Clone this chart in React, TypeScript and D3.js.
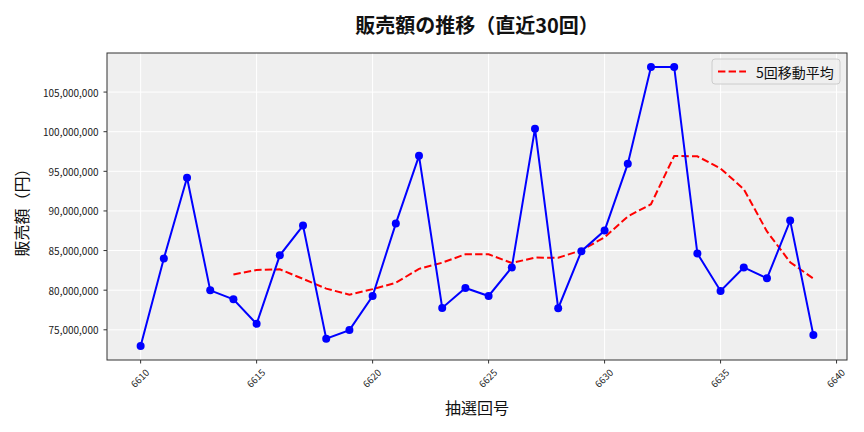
import React from "react";
import * as d3 from "d3";

const rounds: number[] = [6610, 6611, 6612, 6613, 6614, 6615, 6616, 6617, 6618, 6619, 6620, 6621, 6622, 6623, 6624, 6625, 6626, 6627, 6628, 6629, 6630, 6631, 6632, 6633, 6634, 6635, 6636, 6637, 6638, 6639];
const sales: number[] = [72950000, 84000000, 94180000, 79980000, 78850000, 75750000, 84400000, 88150000, 73870000, 74960000, 79270000, 88400000, 96950000, 77760000, 80280000, 79270000, 82870000, 100380000, 77720000, 84920000, 87520000, 95940000, 108170000, 108170000, 84630000, 79900000, 82870000, 81490000, 88780000, 74330000];
const maRounds: number[] = [6614, 6615, 6616, 6617, 6618, 6619, 6620, 6621, 6622, 6623, 6624, 6625, 6626, 6627, 6628, 6629, 6630, 6631, 6632, 6633, 6634, 6635, 6636, 6637, 6638, 6639];
const maValues: number[] = [81990000, 82550000, 82630000, 81430000, 80200000, 79430000, 80130000, 80930000, 82690000, 83470000, 84530000, 84530000, 83430000, 84110000, 84100000, 85030000, 86680000, 89300000, 90850000, 96940000, 96890000, 95360000, 92750000, 87410000, 83530000, 81470000];
const xTicks: number[] = [6610, 6615, 6620, 6625, 6630, 6635, 6640];
const yTicks: number[] = [75000000, 80000000, 85000000, 90000000, 95000000, 100000000, 105000000];

const title = "販売額の推移（直近30回）";
const xLabel = "抽選回号";
const yLabel = "販売額（円）";
const legendLabel = "5回移動平均";

const W = 864, H = 432;
const L = 107, R = 847, T = 53, B = 360;
const FONT = "'Noto Sans CJK JP', 'Noto Sans', sans-serif";

export default function App() {
  const xMin = d3.min(rounds)!, xMax = d3.max(rounds)!;
  const yMin = d3.min(sales)!, yMax = d3.max(sales)!;
  const xm = (xMax - xMin) * 0.05, ym = (yMax - yMin) * 0.05;
  const x = d3.scaleLinear().domain([xMin - xm, xMax + xm]).range([L, R]);
  const y = d3.scaleLinear().domain([yMin - ym, yMax + ym]).range([B, T]);
  const fmt = d3.format(",");

  const line = d3.line<number>().x((_, i) => x(rounds[i])).y((d) => y(d));
  const maLine = d3.line<number>().x((_, i) => x(maRounds[i])).y((d) => y(d));

  const axisColor = "#333";
  const lgX = 712, lgY = 59, lgW = 128, lgH = 25;

  return (
    <svg width={W} height={H} style={{ position: "absolute", left: 0, top: 0, background: "#fff" }} fontFamily={FONT}>
      <rect x={L} y={T} width={R - L} height={B - T} fill="#efefef" />
      {xTicks.map((t) => (
        <line key={"gx" + t} x1={x(t)} x2={x(t)} y1={T} y2={B} stroke="#fff" strokeWidth={1} />
      ))}
      {yTicks.map((t) => (
        <line key={"gy" + t} x1={L} x2={R} y1={y(t)} y2={y(t)} stroke="#fff" strokeWidth={1} />
      ))}
      <path d={maLine(maValues) || ""} fill="none" stroke="#ff0000" strokeWidth={2} strokeDasharray="7.4,3.2" />
      <path d={line(sales) || ""} fill="none" stroke="#0000ff" strokeWidth={2} />
      {sales.map((v, i) => (
        <circle key={"p" + i} cx={x(rounds[i])} cy={y(v)} r={4} fill="#0000ff" />
      ))}
      <rect x={L} y={T} width={R - L} height={B - T} fill="none" stroke={axisColor} strokeWidth={1} />
      {xTicks.map((t) => (
        <g key={"xt" + t}>
          <line x1={x(t)} x2={x(t)} y1={B} y2={B + 3.5} stroke={axisColor} />
          <text transform={`translate(${x(t) - 1},${B + 18}) rotate(-45)`} fontSize={9.5} textAnchor="middle" dominantBaseline="central" fill="#222">{t}</text>
        </g>
      ))}
      {yTicks.map((t) => (
        <g key={"yt" + t}>
          <line x1={L - 3.5} x2={L} y1={y(t)} y2={y(t)} stroke={axisColor} />
          <text x={L - 8.5} y={y(t)} fontSize={10} textAnchor="end" dominantBaseline="central" fill="#222">{fmt(t)}</text>
        </g>
      ))}
      <text x={(L + R) / 2} y={24} fontSize={20} textAnchor="middle" dominantBaseline="central" fill="#111" fontWeight={700}>{title}</text>
      <text x={(L + R) / 2} y={407} fontSize={16} textAnchor="middle" dominantBaseline="central" fill="#111">{xLabel}</text>
      <text transform={`translate(21,${(T + B) / 2 + 2}) rotate(-90)`} fontSize={16} textAnchor="middle" dominantBaseline="central" fill="#111">{yLabel}</text>
      <g>
        <rect x={lgX} y={lgY} width={lgW} height={lgH} rx={3} fill="#efefef" fillOpacity={0.8} stroke="#ccc" />
        <line x1={lgX + 6} x2={lgX + 34} y1={lgY + lgH / 2} y2={lgY + lgH / 2} stroke="#ff0000" strokeWidth={2} strokeDasharray="7.4,3.2" />
        <text x={lgX + 44} y={lgY + lgH / 2} fontSize={14} dominantBaseline="central" fill="#111">{legendLabel}</text>
      </g>
    </svg>
  );
}
